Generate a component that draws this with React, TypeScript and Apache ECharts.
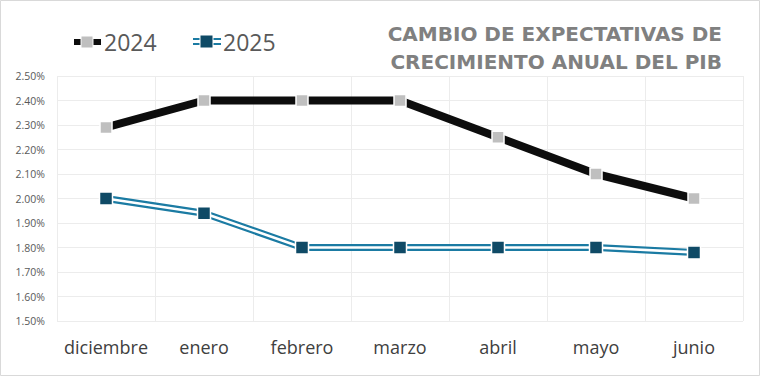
import React, { useEffect, useRef } from "react";
import * as echarts from "echarts";

const categories = ["diciembre", "enero", "febrero", "marzo", "abril", "mayo", "junio"];
const values2024 = [2.29, 2.4, 2.4, 2.4, 2.25, 2.1, 2.0];
const values2025 = [2.0, 1.94, 1.8, 1.8, 1.8, 1.8, 1.78];
const yMin = 1.5;
const yMax = 2.5;
const yInterval = 0.1;
const titleLines = ["CAMBIO DE EXPECTATIVAS DE", "CRECIMIENTO ANUAL DEL PIB"];
const legendNames = ["2024", "2025"];

const FONT = "'Open Sans', 'Noto Sans', 'Liberation Sans', sans-serif";
const TITLE_FONT = "'DejaVu Sans', 'Open Sans', sans-serif";

export default function App() {
  const ref = useRef<HTMLDivElement>(null);
  useEffect(() => {
    document.body.style.margin = "0";
    const chart = echarts.init(ref.current!, undefined, { renderer: "svg" });
    const markerBorder = { borderColor: "#ffffff", borderWidth: 1.5 };
    chart.setOption({
      animation: false,
      backgroundColor: "#ffffff",
      grid: { left: 57, right: 17, top: 76, bottom: 55, containLabel: false },
      xAxis: {
        type: "category",
        data: categories,
        boundaryGap: true,
        axisLine: { show: false },
        axisTick: { show: false },
        axisLabel: { interval: 0, color: "#404040", fontSize: 18, fontFamily: FONT, margin: 17 },
        splitLine: { show: true, interval: 0, lineStyle: { color: "#ececec", width: 1 } },
      },
      yAxis: {
        type: "value",
        min: yMin,
        max: yMax,
        interval: yInterval,
        axisLine: { show: false },
        axisTick: { show: false },
        axisLabel: {
          color: "#595959",
          fontSize: 10.5,
          fontFamily: FONT,
          margin: 12,
          formatter: (v: number) => v.toFixed(2) + "%",
        },
        splitLine: { show: true, lineStyle: { color: "#ececec", width: 1 } },
      },
      series: [
        {
          name: "2024",
          type: "line",
          data: values2024,
          symbol: "rect",
          symbolSize: 12,
          lineStyle: { color: "#0d0d0d", width: 8 },
          itemStyle: { color: "#bfbfbf", ...markerBorder },
          z: 3,
        },
        {
          name: "2025",
          type: "line",
          data: values2025,
          symbol: "none",
          lineStyle: { color: "#1b7ba3", width: 7 },
          z: 2,
        },
        {
          name: "2025w",
          type: "line",
          data: values2025,
          symbol: "none",
          lineStyle: { color: "#ffffff", width: 2.6 },
          z: 2,
        },
        {
          name: "2025m",
          type: "line",
          data: values2025,
          symbol: "rect",
          symbolSize: 13,
          lineStyle: { opacity: 0, width: 0 },
          itemStyle: { color: "#0f4a66", ...markerBorder },
          z: 4,
        },
      ],
      graphic: [
        {
          type: "rect",
          shape: { x: 0.5, y: 0.5, width: 759, height: 375 },
          style: { fill: "none", stroke: "#d9d9d9", lineWidth: 1 },
          silent: true,
        },
        // legend 2024
        { type: "rect", shape: { x: 74, y: 39, width: 27, height: 6 }, style: { fill: "#0d0d0d" } },
        { type: "rect", shape: { x: 81, y: 36, width: 12, height: 12 }, style: { fill: "#bfbfbf", stroke: "#ffffff", lineWidth: 1 } },
        {
          type: "text",
          x: 104,
          y: 42,
          style: { text: legendNames[0], fill: "#595959", fontSize: 23, fontFamily: FONT, verticalAlign: "middle" },
        },
        // legend 2025
        { type: "rect", shape: { x: 193, y: 38, width: 28, height: 2 }, style: { fill: "#1b7ba3" } },
        { type: "rect", shape: { x: 193, y: 43, width: 28, height: 2 }, style: { fill: "#1b7ba3" } },
        { type: "rect", shape: { x: 200, y: 35, width: 13, height: 13 }, style: { fill: "#0f4a66", stroke: "#ffffff", lineWidth: 1 } },
        {
          type: "text",
          x: 223,
          y: 42,
          style: { text: legendNames[1], fill: "#595959", fontSize: 23, fontFamily: FONT, verticalAlign: "middle" },
        },
        // title
        {
          type: "text",
          x: 722,
          y: 34,
          style: {
            text: titleLines[0],
            fill: "#808080",
            fontSize: 20,
            fontWeight: "bold",
            fontFamily: TITLE_FONT,
            align: "right",
            verticalAlign: "middle",
          },
        },
        {
          type: "text",
          x: 722,
          y: 62,
          style: {
            text: titleLines[1],
            fill: "#808080",
            fontSize: 20,
            fontWeight: "bold",
            fontFamily: TITLE_FONT,
            align: "right",
            verticalAlign: "middle",
          },
        },
      ],
    });
    return () => chart.dispose();
  }, []);
  return <div ref={ref} style={{ width: 760, height: 376 }} />;
}
